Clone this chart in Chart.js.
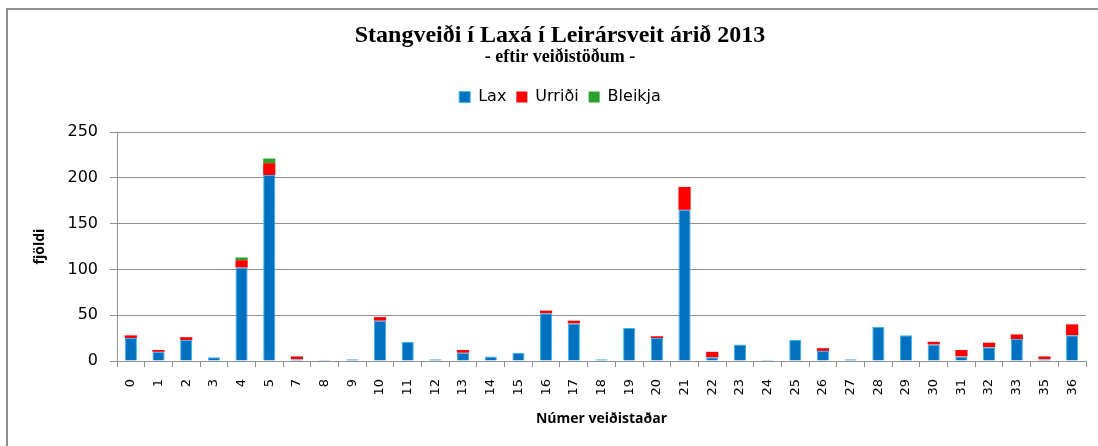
<!DOCTYPE html>
<html>
<head>
<meta charset="utf-8">
<script src="https://cdn.jsdelivr.net/npm/chart.js@4.4.0/dist/chart.umd.min.js"></script>
<style>
  html, body { margin: 0; padding: 0; background: #fff; overflow: hidden; }
  body { width: 1098px; height: 446px; position: relative; }
  #frame { position: absolute; left: 6px; top: 8px; width: 1200px; height: 500px;
           border-left: 2px solid #8e8e8e; border-top: 2px solid #8e8e8e; }
  #wrap { position: absolute; left: 0; top: 0; width: 1120px; height: 446px; }
</style>
</head>
<body>
<div id="frame"></div>
<div id="wrap"><canvas id="c" width="1120" height="446"></canvas></div>
<script>
const categories = ['0','1','2','3','4','5','7','8','9','10','11','12','13','14','15','16','17','18','19','20','21','22','23','24','25','26','27','28','29','30','31','32','33','35','36'];
const lax     = [25,10,23,4,102,203,2,1,2,44,21,2,9,5,9,52,41,2,36,25,165,4,18,1,23,11,2,37,28,18,5,15,24,2,28];
const urridi  = [3,2,3,0,8,13,3,0,0,4,0,0,3,0,0,3,3,0,0,2,25,6,0,0,0,3,0,0,0,3,7,5,5,3,12];
const bleikja = [0,0,0,0,3,5,0,0,0,0,0,0,0,0,0,0,0,0,0,0,0,0,0,0,0,0,0,0,0,0,0,0,0,0,0];
const yTicks  = [0,50,100,150,200,250];

const legendPad = {
  id: 'legendPad',
  afterInit(chart) {
    const lg = chart.legend;
    if (lg && !lg._padded) {
      const orig = lg.fit;
      lg.fit = function() { orig.call(this); this.height += 17; };
      lg._padded = true;
    }
  }
};

new Chart(document.getElementById('c'), {
  type: 'bar',
  data: {
    labels: categories,
    datasets: [
      { label: 'Lax', data: lax, backgroundColor: '#0070c0', borderColor: '#3cb4ec', borderWidth: 1 },
      { label: 'Urriði', data: urridi, backgroundColor: '#ff0000', borderWidth: 0 },
      { label: 'Bleikja', data: bleikja, backgroundColor: '#2ca02c', borderWidth: 0 }
    ]
  },
  options: {
    responsive: false,
    animation: false,
    datasets: { bar: { barPercentage: 0.44, categoryPercentage: 1 } },
    layout: { padding: { left: 34, right: 34, top: 0, bottom: 0 } },
    plugins: {
      title: {
        display: true,
        text: 'Stangveiði í Laxá í Leirársveit árið 2013',
        font: { family: '"Liberation Serif", "Times New Roman", serif', size: 24, weight: 'bold', lineHeight: 1.0 },
        color: '#000',
        padding: { top: 24, bottom: 0 }
      },
      subtitle: {
        display: true,
        text: '- eftir veiðistöðum -',
        font: { family: '"Liberation Serif", "Times New Roman", serif', size: 18, weight: 'bold', lineHeight: 1.0 },
        color: '#000',
        padding: { top: 0, bottom: 13 }
      },
      legend: {
        display: true,
        position: 'top',
        labels: {
          font: { family: '"DejaVu Sans", Verdana, sans-serif', size: 16 },
          color: '#000',
          boxWidth: 11,
          boxHeight: 11,
          padding: 10
        }
      },
      tooltip: { enabled: false }
    },
    scales: {
      x: {
        stacked: true,
        grid: { offset: true, drawOnChartArea: false, drawTicks: true, tickLength: 6, color: '#8f8f8f', lineWidth: 1 },
        border: { display: true, color: '#8f8f8f', width: 1 },
        ticks: {
          autoSkip: false, minRotation: 90, maxRotation: 90, padding: 12,
          font: { family: '"DejaVu Sans", Verdana, sans-serif', size: 13 }, color: '#000'
        },
        title: {
          display: true, text: 'Númer veiðistaðar',
          font: { family: '"Open Sans", sans-serif', size: 14, weight: 'bold' }, color: '#000',
          padding: { top: 0, bottom: 19 }
        },
        afterFit(scale) { scale.height = 85; }
      },
      y: {
        stacked: true,
        min: 0, max: 250,
        afterBuildTicks(scale) { scale.ticks = yTicks.map(v => ({ value: v })); },
        grid: { color: '#8f8f8f', lineWidth: 1, tickLength: 7, drawTicks: true },
        border: { display: true, color: '#8f8f8f', width: 1 },
        ticks: {
          padding: 12,
          font: { family: '"DejaVu Sans", Verdana, sans-serif', size: 16 }, color: '#000'
        },
        title: {
          display: true, text: 'fjöldi',
          font: { family: '"Open Sans", sans-serif', size: 14, weight: 'bold' }, color: '#000',
          padding: { top: -2, bottom: 0 }
        },
        afterFit(scale) { scale.width = 83; }
      }
    }
  },
  plugins: [legendPad]
});
</script>
</body>
</html>
